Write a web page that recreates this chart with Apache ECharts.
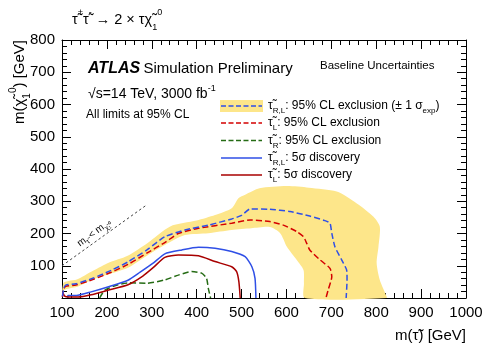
<!DOCTYPE html>
<html>
<head>
<meta charset="utf-8">
<script src="https://cdn.jsdelivr.net/npm/echarts@6/dist/echarts.min.js"></script>
<style>
html, body { margin: 0; padding: 0; background: #fff; }
#chart { width: 491px; height: 353px; }
</style>
</head>
<body>
<div id="chart"></div>
<script>
var FONT = '"Liberation Sans", Arial, sans-serif';

// axis ranges / ticks
var xRange = [100, 1000];
var yRange = [0, 800];
var tickStep = 100;

// contours, [m(stau), m(chi)] in GeV
var bandUpper = [[101, 30], [104, 48], [115, 53], [133, 57], [170, 85], [205, 110], [245, 130], [290, 170], [341, 222],
    [400, 240], [441, 257], [478, 278], [493, 309], [508, 320], [540, 340], [600, 347], [650, 342], [712, 330],
    [756, 294], [794, 252], [808, 221], [805, 159], [801, 108], [808, 56], [820, 15], [823, 0]];
var bandLower = [[641, 0], [639, 46], [638, 87], [623, 118], [601, 159], [586, 201], [563, 220], [522, 216],
    [478, 211], [426, 201], [374, 195], [329, 164], [290, 132], [247, 94], [200, 72], [170, 58], [136, 36],
    [110, 28], [101, 22]];

var rlExcl = [[101, 5], [104, 30], [108, 40], [131, 44], [170, 62], [210, 86], [247, 112], [290, 150], [329, 190],
    [374, 211], [426, 226], [478, 245], [500, 256], [519, 276], [563, 275], [608, 268], [652, 254], [686, 240],
    [697, 232], [701, 201], [708, 159], [723, 118], [734, 87], [735, 56], [733, 0]];
var lExcl = [[101, 3], [103, 25], [108, 36], [131, 40], [170, 58], [210, 80], [247, 104], [290, 140], [329, 172],
    [359, 200], [404, 216], [478, 232], [519, 242], [563, 237], [593, 226], [623, 206], [638, 190], [645, 170],
    [652, 149], [675, 118], [697, 92], [701, 66], [693, 25], [688, 0]];
var rExcl = [[184, 0], [195, 24], [225, 41], [247, 47], [290, 46], [329, 56], [359, 71], [389, 82], [411, 77],
    [422, 61], [426, 30], [431, 0]];
var rlDisc = [[113, 0], [113, 8], [132, 8], [165, 19], [202, 34], [247, 55], [274, 80], [303, 108], [329, 137],
    [367, 149], [404, 157], [441, 154], [478, 144], [508, 128], [523, 97], [530, 61], [532, 0]];
var lDisc = [[102, 16], [106, 6], [114, 3], [136, 3], [165, 10], [202, 24], [247, 41], [280, 68], [303, 94],
    [329, 126], [359, 133], [404, 131], [441, 113], [478, 97], [489, 82], [494, 51], [497, 0]];
var diagonal = [[100, 100], [290, 290]];

var chart = echarts.init(document.getElementById('chart'));

function makeAxis(range, pos, showLabel) {
    return {
        type: 'value', min: range[0], max: range[1], interval: tickStep, position: pos, gridIndex: 0,
        axisLine: { show: true, onZero: false, lineStyle: { color: '#000', width: 1 } },
        axisTick: { show: true, inside: true, length: 9, lineStyle: { color: '#000' } },
        minorTick: { show: true, splitNumber: 5, length: 5, lineStyle: { color: '#000' } },
        splitLine: { show: false },
        axisLabel: { show: showLabel, color: '#000', fontSize: 15, fontFamily: FONT, margin: 7 }
    };
}

var xBottom = makeAxis(xRange, 'bottom', true);
xBottom.axisLabel.formatter = function (v) { return String(v); };
var xTop = makeAxis(xRange, 'top', false);
var yLeft = makeAxis(yRange, 'left', true);
yLeft.axisLabel.showMinLabel = false;
var yRight = makeAxis(yRange, 'right', false);

function lineSeries(name, pts, color, dashed) {
    return {
        name: name, type: 'line', data: pts, showSymbol: false, smooth: 0.2,
        lineStyle: { color: color, width: 1.5, type: dashed ? [6, 3] : 'solid' },
        z: 5, silent: true
    };
}

var richTxt = {
    b: { fontSize: 12, fontFamily: FONT, color: '#000', lineHeight: 18 },
    sub: { fontSize: 8, fontFamily: FONT, color: '#000', verticalAlign: 'bottom' },
    sup: { fontSize: 8, fontFamily: FONT, color: '#000', verticalAlign: 'top' }
};

var legendRows = [
    { y: 106, color: '#2f4fe6', dashed: true, band: true, text: '{b|τ̃}{sub|R,L}{b|: 95% CL exclusion (± 1 σ}{sub|exp}{b|)}' },
    { y: 123, color: '#d40000', dashed: true, text: '{b|τ̃}{sub|L}{b|: 95% CL exclusion}' },
    { y: 140.5, color: '#256b14', dashed: true, text: '{b|τ̃}{sub|R}{b|: 95% CL exclusion}' },
    { y: 158, color: '#2f4fe6', dashed: false, text: '{b|τ̃}{sub|R,L}{b|: 5σ discovery}' },
    { y: 175, color: '#a80000', dashed: false, text: '{b|τ̃}{sub|L}{b|: 5σ discovery}' }
];

var graphics = [];
legendRows.forEach(function (r) {
    if (r.band) {
        graphics.push({ type: 'rect', shape: { x: 220, y: r.y - 6, width: 43, height: 12 }, style: { fill: '#fde68a' } });
    }
    graphics.push({ type: 'line', shape: { x1: 221, y1: r.y, x2: 262, y2: r.y },
        style: { stroke: r.color, lineWidth: 1.5, lineDash: r.dashed ? [5, 2.5] : 'solid' } });
    graphics.push({ type: 'text', x: 268, y: r.y, style: { text: r.text, rich: richTxt, verticalAlign: 'middle' } });
});

graphics.push({ type: 'text', x: 88, y: 69, style: {
    text: '{a|ATLAS} {s|Simulation Preliminary}', verticalAlign: 'middle',
    rich: { a: { fontSize: 16, fontWeight: 'bold', fontStyle: 'italic', fontFamily: FONT, color: '#000' },
            s: { fontSize: 15, fontFamily: FONT, color: '#000' } } } });
graphics.push({ type: 'text', x: 88, y: 94, style: {
    text: '{b|√s=14 TeV, 3000 fb}{sup|-1}', verticalAlign: 'middle',
    rich: { b: { fontSize: 14, fontFamily: FONT, color: '#000', lineHeight: 20 },
            sup: { fontSize: 9, fontFamily: FONT, color: '#000', verticalAlign: 'top' } } } });
graphics.push({ type: 'text', x: 86, y: 115, style: { text: 'All limits at 95% CL', fontSize: 12, fontFamily: FONT,
    fill: '#000', verticalAlign: 'middle' } });
graphics.push({ type: 'text', x: 320, y: 66, style: { text: 'Baseline Uncertainties', fontSize: 11.5, fontFamily: FONT,
    fill: '#000', verticalAlign: 'middle' } });
graphics.push({ type: 'text', x: 72, y: 20, style: {
    text: '{b|τ̃}{sup|+}{b|τ̃}{sup|-}{b| → 2 × τχ̃}{sub|1}{sup|0}', verticalAlign: 'middle',
    rich: { b: { fontSize: 14.5, fontFamily: FONT, color: '#000', lineHeight: 24 },
            sub: { fontSize: 9, fontFamily: FONT, color: '#000', verticalAlign: 'bottom' },
            sup: { fontSize: 9, fontFamily: FONT, color: '#000', verticalAlign: 'top' } } } });
graphics.push({ type: 'text', x: 466, y: 336, style: {
    text: 'm(τ̃) [GeV]', fontSize: 15, fontFamily: FONT, fill: '#000', align: 'right', verticalAlign: 'middle' } });
graphics.push({ type: 'text', x: 20, y: 40, rotation: Math.PI / 2, style: {
    text: '{b|m(χ̃}{sub|1}{sup|0}{b|) [GeV]}', align: 'right', verticalAlign: 'middle',
    rich: { b: { fontSize: 15, fontFamily: FONT, color: '#000', lineHeight: 24 },
            sub: { fontSize: 10, fontFamily: FONT, color: '#000', verticalAlign: 'bottom' },
            sup: { fontSize: 10, fontFamily: FONT, color: '#000', verticalAlign: 'top' } } } });
graphics.push({ type: 'text', x: 94, y: 233, rotation: 0.63, style: {
    text: '{b|m}{sub|τ̃}{b| < m}{sub|χ̃₁⁰}', align: 'center', verticalAlign: 'middle',
    rich: { b: { fontSize: 10, fontFamily: FONT, color: '#999', lineHeight: 14 },
            sub: { fontSize: 7, fontFamily: FONT, color: '#999', verticalAlign: 'bottom' } } } });

chart.setOption({
    animation: false,
    grid: { left: 62, top: 40, width: 404, height: 258 },
    xAxis: [xBottom, xTop],
    yAxis: [yLeft, yRight],
    series: [
        {
            name: 'band', type: 'custom', silent: true, z: 1,
            data: [[100, 0]],
            renderItem: function (params, api) {
                var pts = bandUpper.concat(bandLower).map(function (p) { return api.coord(p); });
                return { type: 'polygon', shape: { points: pts, smooth: 0.25 }, style: { fill: '#fde68a' } };
            }
        },
        {
            name: 'diag', type: 'line', data: diagonal, showSymbol: false, silent: true,
            lineStyle: { color: '#444', width: 1, type: [2.5, 2.5] }
        },
        lineSeries('rExcl', rExcl, '#256b14', true),
        lineSeries('rlDisc', rlDisc, '#2f4fe6', false),
        lineSeries('lDisc', lDisc, '#a80000', false),
        lineSeries('lExcl', lExcl, '#d40000', true),
        lineSeries('rlExcl', rlExcl, '#2f4fe6', true)
    ],
    graphic: graphics
});
</script>
</body>
</html>
